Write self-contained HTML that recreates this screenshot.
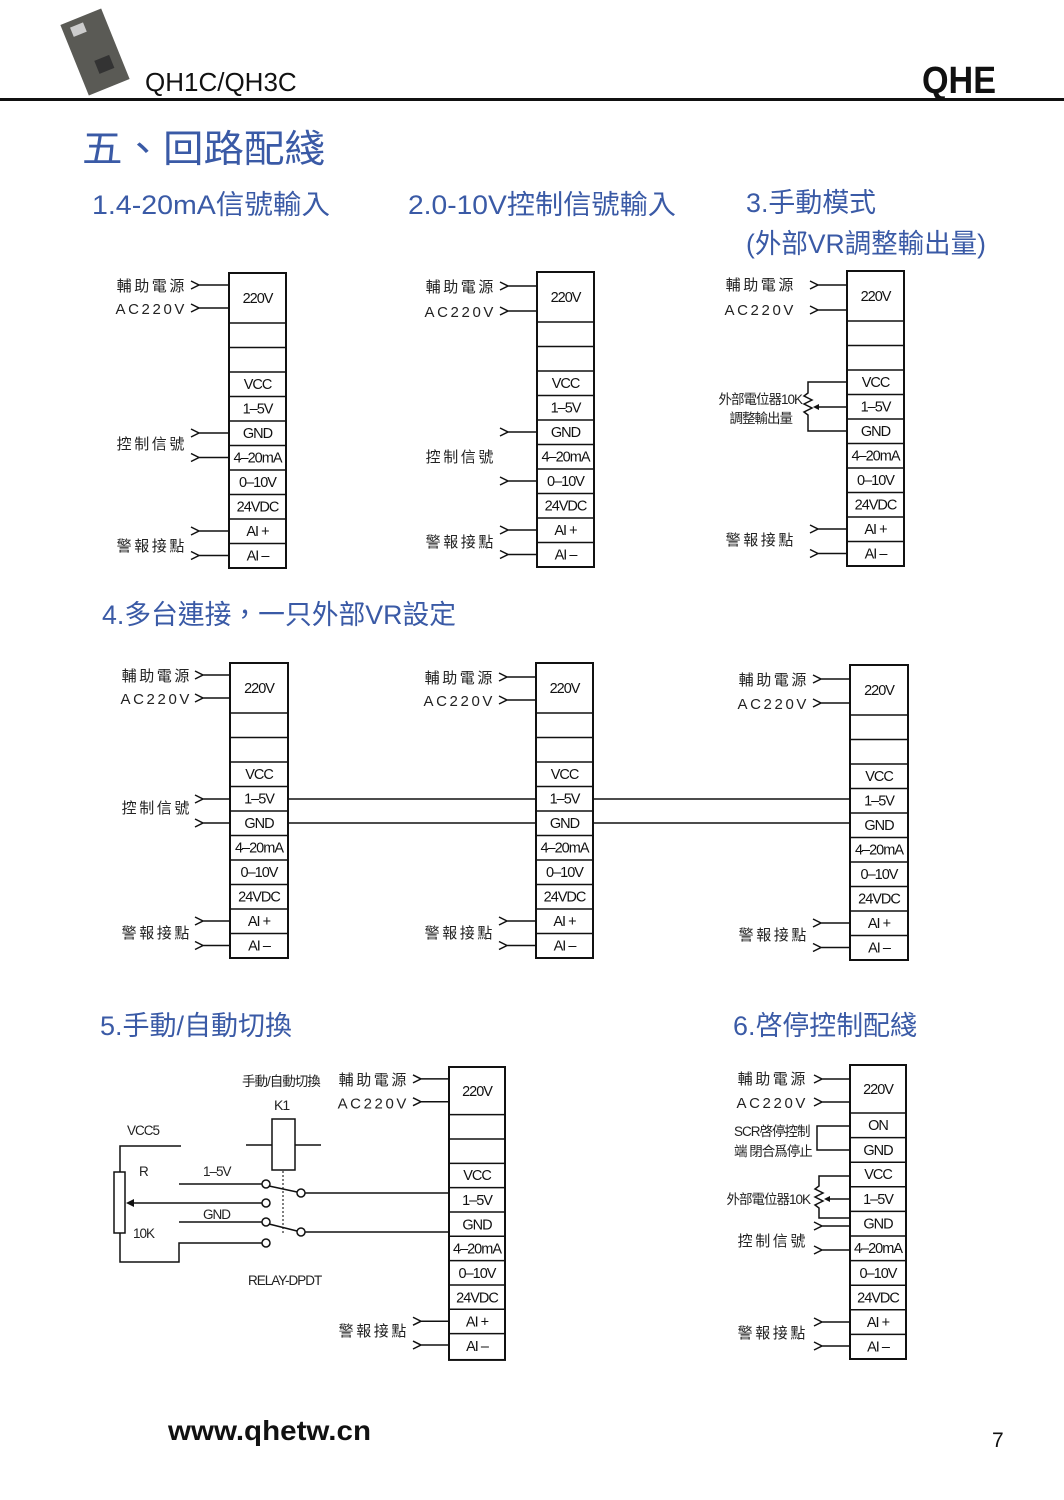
<!DOCTYPE html>
<html><head><meta charset="utf-8"><style>
html,body{margin:0;padding:0;background:#fff;}
svg{display:block;}
.cj{font-family:"Liberation Sans","Noto Sans CJK TC",sans-serif;}
.t{font-family:"Liberation Sans","Noto Sans CJK TC",sans-serif;font-size:14.5px;letter-spacing:-1px;text-anchor:middle;fill:#111;}
.l{font-family:"Liberation Sans","Noto Sans CJK TC",sans-serif;font-size:15px;letter-spacing:2.6px;fill:#222;text-anchor:end;}
.s{font-family:"Liberation Sans","Noto Sans CJK TC",sans-serif;font-size:13.5px;letter-spacing:-1px;fill:#222;}
.h{font-family:"Liberation Sans","Noto Sans CJK TC",sans-serif;font-size:27px;fill:#3a5aa6;}
.k{stroke:#111;stroke-width:2;fill:none;}
.w{stroke:#111;stroke-width:1.5;fill:none;}
</style></head><body>
<svg width="1064" height="1500" viewBox="0 0 1064 1500" xmlns="http://www.w3.org/2000/svg">
<!-- header -->
<g transform="translate(95,52) rotate(-22)">
<rect x="-22" y="-38" width="44" height="76" fill="#5a5a55"/>
<rect x="-14" y="-32" width="14" height="10" fill="#ccc"/>
<rect x="-4" y="8" width="16" height="14" fill="#333"/>
</g>
<text x="145" y="91" style="font-family:'Liberation Sans',sans-serif;font-size:26px;fill:#111">QH1C/QH3C</text>
<text x="996" y="93" text-anchor="end" style="font-family:'Liberation Sans',sans-serif;font-weight:bold;font-size:38px;fill:#111" textLength="74" lengthAdjust="spacingAndGlyphs">QHE</text>
<rect x="0" y="98" width="1064" height="3" fill="#111"/>
<text x="82" y="162" class="cj" style="font-size:38px;fill:#3a5aa6" textLength="243" lengthAdjust="spacingAndGlyphs">五、回路配綫</text>
<text x="92" y="214" class="h" textLength="238" lengthAdjust="spacingAndGlyphs">1.4-20mA信號輸入</text>
<text x="408" y="214" class="h" textLength="268" lengthAdjust="spacingAndGlyphs">2.0-10V控制信號輸入</text>
<text x="746" y="212" class="h" textLength="130" lengthAdjust="spacingAndGlyphs">3.手動模式</text>
<text x="746" y="253" class="h" textLength="240" lengthAdjust="spacingAndGlyphs">(外部VR調整輸出量)</text>
<text x="102" y="624" class="h" textLength="354" lengthAdjust="spacingAndGlyphs">4.多台連接，一只外部VR設定</text>
<text x="100" y="1035" class="h" textLength="192" lengthAdjust="spacingAndGlyphs">5.手動/自動切換</text>
<text x="733" y="1035" class="h" textLength="184" lengthAdjust="spacingAndGlyphs">6.啓停控制配綫</text>

<!-- Block 1 -->
<g transform="translate(229,273)">
<rect x="0" y="0" width="57" height="295" class="k"/>
<path class="w" d="M0 50H57M0 74.5H57M0 99H57M0 123.5H57M0 148H57M0 172.5H57M0 197H57M0 221.5H57M0 246H57M0 270.5H57"/>
<text class="t" x="28.5" y="30">220V</text><text class="t" x="28.5" y="116">VCC</text><text class="t" x="28.5" y="140.5">1–5V</text><text class="t" x="28.5" y="165">GND</text><text class="t" x="28.5" y="189.5">4–20mA</text><text class="t" x="28.5" y="214">0–10V</text><text class="t" x="28.5" y="238.5">24VDC</text><text class="t" x="28.5" y="263">AI +</text><text class="t" x="28.5" y="287.5">AI –</text>
<path class="w" d="M-38 8l8 4-8 4M-30 12H0M-38 31l8 4-8 4M-30 35H0M-38 156l8 4-8 4M-30 160H0M-38 180.5l8 4-8 4M-30 184.5H0M-38 254l8 4-8 4M-30 258H0M-38 278.5l8 4-8 4M-30 282.5H0"/>
<text class="l" x="-42" y="18">輔助電源</text><text class="l" x="-42" y="41">AC220V</text><text class="l" x="-42" y="176">控制信號</text><text class="l" x="-42" y="278">警報接點</text>
</g>

<!-- Block 2 -->
<g transform="translate(537,272)">
<rect x="0" y="0" width="57" height="295" class="k"/>
<path class="w" d="M0 50H57M0 74.5H57M0 99H57M0 123.5H57M0 148H57M0 172.5H57M0 197H57M0 221.5H57M0 246H57M0 270.5H57"/>
<text class="t" x="28.5" y="30">220V</text><text class="t" x="28.5" y="116">VCC</text><text class="t" x="28.5" y="140.5">1–5V</text><text class="t" x="28.5" y="165">GND</text><text class="t" x="28.5" y="189.5">4–20mA</text><text class="t" x="28.5" y="214">0–10V</text><text class="t" x="28.5" y="238.5">24VDC</text><text class="t" x="28.5" y="263">AI +</text><text class="t" x="28.5" y="287.5">AI –</text>
<path class="w" d="M-37 10l8 4-8 4M-29 14H0M-37 35l8 4-8 4M-29 39H0M-37 156l8 4-8 4M-29 160H0M-37 205l8 4-8 4M-29 209H0M-37 254l8 4-8 4M-29 258H0M-37 278.5l8 4-8 4M-29 282.5H0"/>
<text class="l" x="-41" y="20">輔助電源</text><text class="l" x="-41" y="45">AC220V</text><text class="l" x="-41" y="190">控制信號</text><text class="l" x="-41" y="275">警報接點</text>
</g>

<!-- Block 3 -->
<g transform="translate(847,271)">
<rect x="0" y="0" width="57" height="295" class="k"/>
<path class="w" d="M0 50H57M0 74.5H57M0 99H57M0 123.5H57M0 148H57M0 172.5H57M0 197H57M0 221.5H57M0 246H57M0 270.5H57"/>
<text class="t" x="28.5" y="30">220V</text><text class="t" x="28.5" y="116">VCC</text><text class="t" x="28.5" y="140.5">1–5V</text><text class="t" x="28.5" y="165">GND</text><text class="t" x="28.5" y="189.5">4–20mA</text><text class="t" x="28.5" y="214">0–10V</text><text class="t" x="28.5" y="238.5">24VDC</text><text class="t" x="28.5" y="263">AI +</text><text class="t" x="28.5" y="287.5">AI –</text>
<path class="w" d="M-37 10l8 4-8 4M-29 14H0M-37 35l8 4-8 4M-29 39H0M-37 254l8 4-8 4M-29 258H0M-37 278.5l8 4-8 4M-29 282.5H0"/>
<path class="w" d="M0 111H-39V122l-4 3 8 4-8 4 8 4-8 4 4 3V160H0M-32 136H0"/>
<path d="M-34 136l6-3v6z" fill="#111"/>
<text class="l" x="-51" y="19">輔助電源</text><text class="l" x="-51" y="44">AC220V</text><text class="l" x="-51" y="274">警報接點</text>
<text class="s" x="-45" y="133" text-anchor="end">外部電位器10K</text><text class="s" x="-55" y="152" text-anchor="end">調整輸出量</text>
</g>

<!-- Section 4 -->
<path class="w" d="M288 799H536M288 823H536M593 799H850M593 823H850"/>
<g transform="translate(230,663)">
<rect x="0" y="0" width="58" height="295" class="k"/>
<path class="w" d="M0 50H58M0 74.5H58M0 99H58M0 123.5H58M0 148H58M0 172.5H58M0 197H58M0 221.5H58M0 246H58M0 270.5H58"/>
<text class="t" x="29" y="30">220V</text><text class="t" x="29" y="116">VCC</text><text class="t" x="29" y="140.5">1–5V</text><text class="t" x="29" y="165">GND</text><text class="t" x="29" y="189.5">4–20mA</text><text class="t" x="29" y="214">0–10V</text><text class="t" x="29" y="238.5">24VDC</text><text class="t" x="29" y="263">AI +</text><text class="t" x="29" y="287.5">AI –</text>
<path class="w" d="M-35 8l8 4-8 4M-27 12H0M-35 31l8 4-8 4M-27 35H0M-35 132l8 4-8 4M-27 136H0M-35 156l8 4-8 4M-27 160H0M-35 254l8 4-8 4M-27 258H0M-35 278.5l8 4-8 4M-27 282.5H0"/>
<text class="l" x="-38" y="18">輔助電源</text><text class="l" x="-38" y="41">AC220V</text><text class="l" x="-38" y="150">控制信號</text><text class="l" x="-38" y="275">警報接點</text>
</g>
<g transform="translate(536,663)">
<rect x="0" y="0" width="57" height="295" class="k"/>
<path class="w" d="M0 50H57M0 74.5H57M0 99H57M0 123.5H57M0 148H57M0 172.5H57M0 197H57M0 221.5H57M0 246H57M0 270.5H57"/>
<text class="t" x="28.5" y="30">220V</text><text class="t" x="28.5" y="116">VCC</text><text class="t" x="28.5" y="140.5">1–5V</text><text class="t" x="28.5" y="165">GND</text><text class="t" x="28.5" y="189.5">4–20mA</text><text class="t" x="28.5" y="214">0–10V</text><text class="t" x="28.5" y="238.5">24VDC</text><text class="t" x="28.5" y="263">AI +</text><text class="t" x="28.5" y="287.5">AI –</text>
<path class="w" d="M-37 10l8 4-8 4M-29 14H0M-37 33l8 4-8 4M-29 37H0M-37 254l8 4-8 4M-29 258H0M-37 278.5l8 4-8 4M-29 282.5H0"/>
<text class="l" x="-41" y="20">輔助電源</text><text class="l" x="-41" y="43">AC220V</text><text class="l" x="-41" y="275">警報接點</text>
</g>
<g transform="translate(850,665)">
<rect x="0" y="0" width="58" height="295" class="k"/>
<path class="w" d="M0 50H58M0 74.5H58M0 99H58M0 123.5H58M0 148H58M0 172.5H58M0 197H58M0 221.5H58M0 246H58M0 270.5H58"/>
<text class="t" x="29" y="30">220V</text><text class="t" x="29" y="116">VCC</text><text class="t" x="29" y="140.5">1–5V</text><text class="t" x="29" y="165">GND</text><text class="t" x="29" y="189.5">4–20mA</text><text class="t" x="29" y="214">0–10V</text><text class="t" x="29" y="238.5">24VDC</text><text class="t" x="29" y="263">AI +</text><text class="t" x="29" y="287.5">AI –</text>
<path class="w" d="M-37 10l8 4-8 4M-29 14H0M-37 34l8 4-8 4M-29 38H0M-37 254l8 4-8 4M-29 258H0M-37 278.5l8 4-8 4M-29 282.5H0"/>
<text class="l" x="-41" y="20">輔助電源</text><text class="l" x="-41" y="44">AC220V</text><text class="l" x="-41" y="275">警報接點</text>
</g>

<!-- Section 5 -->
<g transform="translate(449,1067) scale(1,0.993)">
<rect x="0" y="0" width="56" height="295" class="k"/>
<path class="w" d="M0 48H56M0 72.5H56M0 97H56M0 121.5H56M0 146H56M0 170.5H56M0 195H56M0 219.5H56M0 244H56M0 268.5H56"/>
<text class="t" x="28" y="29">220V</text><text class="t" x="28" y="114">VCC</text><text class="t" x="28" y="139">1–5V</text><text class="t" x="28" y="163.5">GND</text><text class="t" x="28" y="188">4–20mA</text><text class="t" x="28" y="212.5">0–10V</text><text class="t" x="28" y="237">24VDC</text><text class="t" x="28" y="261.5">AI +</text><text class="t" x="28" y="286">AI –</text>
<path class="w" d="M-36 8l8 4-8 4M-28 12H0M-36 31l8 4-8 4M-28 35H0M-36 252l8 4-8 4M-28 256H0M-36 276l8 4-8 4M-28 280H0"/>
<text class="l" x="-40" y="18">輔助電源</text><text class="l" x="-40" y="42">AC220V</text><text class="l" x="-40" y="271">警報接點</text>
</g>
<text class="s" x="242" y="1086">手動/自動切換</text>
<text class="s" x="274" y="1110" style="font-size:14px">K1</text>
<text class="s" x="127" y="1135">VCC5</text>
<text class="s" x="139" y="1176">R</text>
<text class="s" x="203" y="1176">1–5V</text>
<text class="s" x="203" y="1219">GND</text>
<text class="s" x="133" y="1238">10K</text>
<text class="s" x="248" y="1285">RELAY-DPDT</text>
<rect x="272" y="1119" width="23" height="51" class="w"/>
<path class="w" d="M246 1145H272M295 1145H321"/>
<path d="M283 1171V1233" stroke="#555" stroke-width="1.5" stroke-dasharray="2,2"/>
<rect x="114" y="1172" width="11" height="61" class="w"/>
<path class="w" d="M181 1146H120V1172M120 1233V1262H179V1243H262M179 1184H262M179 1222H262M262 1203H131M269 1186L297 1192M269 1224L297 1231M305 1193H449M305 1232H449"/>
<path d="M126 1203l8-4v8z" fill="#111"/>
<g fill="#fff" stroke="#111" stroke-width="1.5"><circle cx="266" cy="1184" r="4"/><circle cx="266" cy="1203" r="4"/><circle cx="266" cy="1222" r="4"/><circle cx="266" cy="1243" r="4"/><circle cx="301" cy="1193" r="4"/><circle cx="301" cy="1232" r="4"/></g>

<!-- Section 6 -->
<g transform="translate(850,1065)">
<rect x="0" y="0" width="56" height="294" class="k"/>
<path class="w" d="M0 48H56M0 72.6H56M0 97.2H56M0 121.8H56M0 146.4H56M0 171H56M0 195.6H56M0 220.2H56M0 244.8H56M0 269.4H56"/>
<text class="t" x="28" y="29">220V</text><text class="t" x="28" y="65">ON</text><text class="t" x="28" y="90">GND</text><text class="t" x="28" y="114">VCC</text><text class="t" x="28" y="139">1–5V</text><text class="t" x="28" y="163.5">GND</text><text class="t" x="28" y="188">4–20mA</text><text class="t" x="28" y="213">0–10V</text><text class="t" x="28" y="237.5">24VDC</text><text class="t" x="28" y="262">AI +</text><text class="t" x="28" y="286.5">AI –</text>
<path class="w" d="M-36 10l8 4-8 4M-28 14H0M-36 33l8 4-8 4M-28 37H0M-36 157l8 4-8 4M-28 161H0M-36 181l8 4-8 4M-28 185H0M-36 253l8 4-8 4M-28 257H0M-36 277l8 4-8 4M-28 281H0"/>
<path class="w" d="M0 61H-33V85H0"/>
<path class="w" d="M0 111H-31V121l-4 3 8 4-8 4 8 4-8 4 4 3V153H0M-24 134H0"/>
<path d="M-26 134l6-3v6z" fill="#111"/>
<text class="l" x="-42" y="19">輔助電源</text><text class="l" x="-42" y="43">AC220V</text><text class="l" x="-42" y="181">控制信號</text><text class="l" x="-42" y="273">警報接點</text>
<text class="s" x="-116" y="71">SCR啓停控制</text><text class="s" x="-116" y="91">端 閉合爲停止</text>
<text class="s" x="-40" y="139" text-anchor="end">外部電位器10K</text>
</g>

<!-- footer -->
<text x="168" y="1440" style="font-family:'Liberation Sans',sans-serif;font-weight:bold;font-size:28px;fill:#111" textLength="203" lengthAdjust="spacingAndGlyphs">www.qhetw.cn</text>
<text x="992" y="1447" style="font-family:'Liberation Sans',sans-serif;font-size:21px;fill:#111">7</text>
</svg>
</body></html>
